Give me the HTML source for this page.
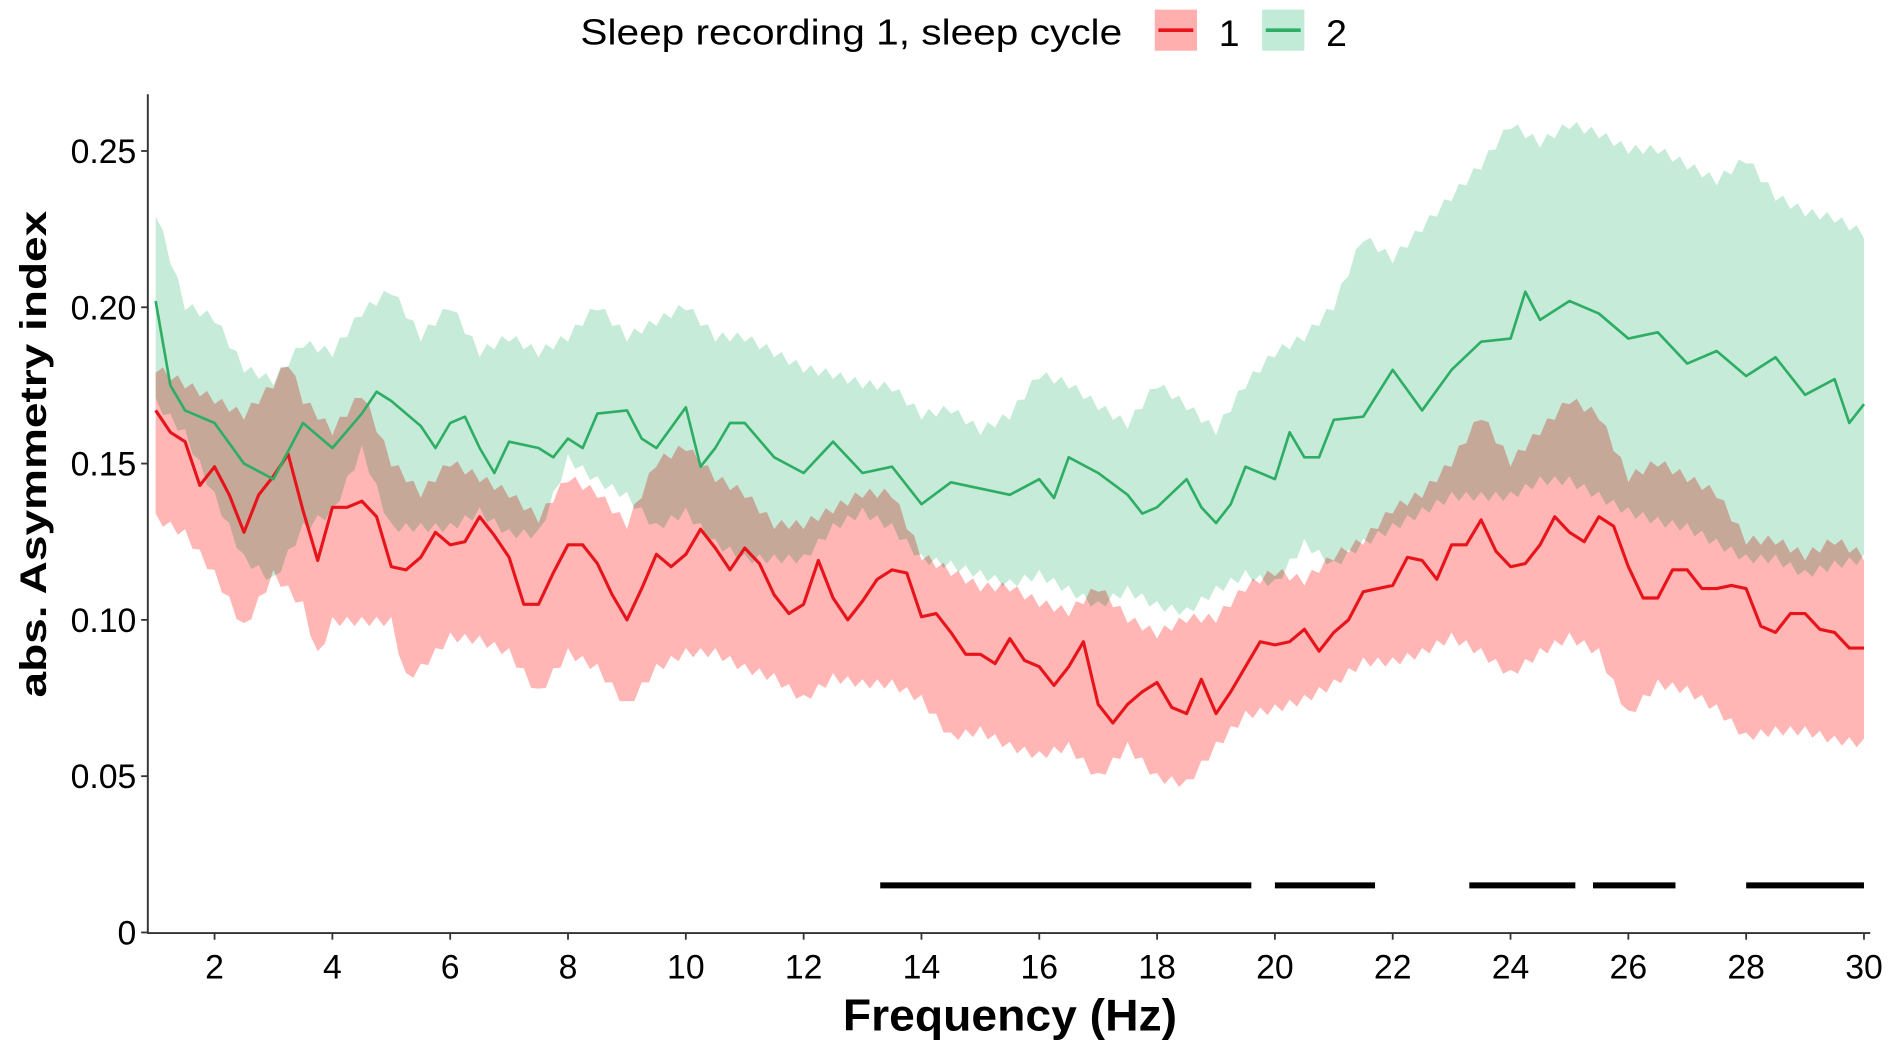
<!DOCTYPE html>
<html><head><meta charset="utf-8">
<style>
html,body{margin:0;padding:0;background:#fff;}
svg{display:block;}
text{font-family:"Liberation Sans",Arial,sans-serif;}
</style></head>
<body>
<svg id="s" width="1892" height="1046" viewBox="0 0 1568 866" preserveAspectRatio="none" xmlns="http://www.w3.org/2000/svg">
<g id="bands"></g>
<g id="lines"></g>
<g id="axes"></g>
<!-- legend -->
<text x="481" y="37" font-size="30" fill="#000" textLength="449" lengthAdjust="spacingAndGlyphs">Sleep recording 1, sleep cycle</text>
<rect x="957" y="8" width="35" height="34" fill="#FFB0AE"/>
<line x1="960" y1="25" x2="989" y2="25" stroke="#E8141B" stroke-width="3"/>
<text x="1010" y="38" font-size="31">1</text>
<rect x="1046" y="8" width="35" height="34" fill="#C2EBD7"/>
<line x1="1049" y1="25" x2="1078" y2="25" stroke="#2EAE64" stroke-width="3"/>
<text x="1099" y="38" font-size="31">2</text>
<text transform="translate(38,376) rotate(-90)" text-anchor="middle" font-size="31" font-weight="bold" textLength="403" lengthAdjust="spacingAndGlyphs">abs. Asymmetry index</text>
<text x="837" y="853" text-anchor="middle" font-size="37" font-weight="bold" textLength="277" lengthAdjust="spacingAndGlyphs">Frequency (Hz)</text>
</svg>
<script>
const X=f=>129+(f-1)*48.82, Y=v=>772-v*2588;
function parse(s){return s.trim().split(/\s*,\s*/).map(p=>p.split(':').map(Number));}
function interp(pts,f){for(let i=0;i<pts.length-1;i++){if(f>=pts[i][0]&&f<=pts[i+1][0]){const t=(f-pts[i][0])/(pts[i+1][0]-pts[i][0]);return pts[i][1]+t*(pts[i+1][1]-pts[i][1]);}}return pts[pts.length-1][1];}
const rm=parse("1:0.167,1.25:0.16,1.5:0.157,1.75:0.143,2:0.149,2.25:0.14,2.5:0.128,2.75:0.14,3:0.146,3.25:0.153,3.5:0.135,3.75:0.119,4:0.136,4.25:0.136,4.5:0.138,4.75:0.133,5:0.117,5.25:0.116,5.5:0.12,5.75:0.128,6:0.124,6.25:0.125,6.5:0.133,6.75:0.127,7:0.12,7.25:0.105,7.5:0.105,7.75:0.115,8:0.124,8.25:0.124,8.5:0.118,8.75:0.108,9:0.1,9.25:0.11,9.5:0.121,9.75:0.117,10:0.121,10.25:0.129,10.5:0.123,10.75:0.116,11:0.123,11.25:0.118,11.5:0.108,11.75:0.102,12:0.105,12.25:0.119,12.5:0.107,12.75:0.1,13:0.106,13.25:0.113,13.5:0.116,13.75:0.115,14:0.101,14.25:0.102,14.5:0.096,14.75:0.089,15:0.089,15.25:0.086,15.5:0.094,15.75:0.087,16:0.085,16.25:0.079,16.5:0.085,16.75:0.093,17:0.073,17.25:0.067,17.5:0.073,17.75:0.077,18:0.08,18.25:0.072,18.5:0.07,18.75:0.081,19:0.07,19.25:0.077,19.5:0.085,19.75:0.093,20:0.092,20.25:0.093,20.5:0.097,20.75:0.09,21:0.096,21.25:0.1,21.5:0.109,21.75:0.11,22:0.111,22.25:0.12,22.5:0.119,22.75:0.113,23:0.124,23.25:0.124,23.5:0.132,23.75:0.122,24:0.117,24.25:0.118,24.5:0.124,24.75:0.133,25:0.128,25.25:0.125,25.5:0.133,25.75:0.13,26:0.117,26.25:0.107,26.5:0.107,26.75:0.116,27:0.116,27.25:0.11,27.5:0.11,27.75:0.111,28:0.11,28.25:0.098,28.5:0.096,28.75:0.102,29:0.102,29.25:0.097,29.5:0.096,29.75:0.091,30:0.091");
const ru=parse("1:0.18,1.5:0.175,2:0.17,2.5:0.165,3:0.175,3.25:0.182,3.5:0.17,4:0.16,4.5:0.172,5:0.15,5.5:0.14,6:0.15,6.5:0.145,7:0.14,7.5:0.132,8:0.145,8.5:0.14,9:0.13,9.5:0.15,10:0.155,10.5:0.145,11:0.14,11.5:0.13,12:0.13,12.5:0.135,13:0.14,13.5:0.14,14:0.12,14.5:0.115,15:0.11,15.5:0.11,16:0.105,16.5:0.102,17:0.11,17.5:0.1,18:0.095,18.5:0.1,19:0.1,19.5:0.11,20:0.115,20.5:0.112,21:0.12,21.5:0.125,22:0.135,22.5:0.14,23:0.15,23.5:0.165,24:0.15,24.5:0.16,25:0.17,25.5:0.165,26:0.145,26.5:0.15,27:0.145,27.5:0.14,28:0.125,28.5:0.125,29:0.12,29.5:0.125,30:0.12");
const rl=parse("1:0.133,1.5:0.128,2:0.115,2.5:0.098,3:0.115,3.5:0.105,3.75:0.089,4:0.1,4.5:0.1,5:0.1,5.25:0.082,5.5:0.085,6:0.095,6.5:0.094,7:0.09,7.5:0.077,8:0.09,8.5:0.085,9:0.073,9.5:0.085,10:0.09,10.5:0.09,11:0.085,11.5:0.082,12:0.075,12.5:0.082,13:0.08,13.5:0.08,14:0.075,14.5:0.063,15:0.065,15.5:0.06,16:0.057,16.5:0.06,17:0.05,17.5:0.06,18:0.05,18.5:0.048,19:0.06,19.5:0.07,20:0.072,20.5:0.075,21:0.08,21.5:0.087,22:0.087,22.5:0.09,23:0.095,23.5:0.09,24:0.083,24.5:0.09,25:0.095,25.5:0.09,26:0.07,26.5:0.08,27:0.078,27.5:0.072,28:0.063,28.5:0.065,29:0.065,29.5:0.062,30:0.061");
const gm=parse("1:0.202,1.25:0.175,1.5:0.167,2:0.163,2.5:0.15,3:0.145,3.5:0.163,4:0.155,4.5:0.166,4.75:0.173,5:0.17,5.5:0.162,5.75:0.155,6:0.163,6.25:0.165,6.5:0.155,6.75:0.147,7:0.157,7.5:0.155,7.75:0.152,8:0.158,8.25:0.155,8.5:0.166,9:0.167,9.25:0.158,9.5:0.155,10:0.168,10.25:0.149,10.5:0.155,10.75:0.163,11:0.163,11.5:0.152,12:0.147,12.5:0.157,13:0.147,13.5:0.149,14:0.137,14.5:0.144,15:0.142,15.5:0.14,16:0.145,16.25:0.139,16.5:0.152,17:0.147,17.5:0.14,17.75:0.134,18:0.136,18.5:0.145,18.75:0.136,19:0.131,19.25:0.137,19.5:0.149,20:0.145,20.25:0.16,20.5:0.152,20.75:0.152,21:0.164,21.5:0.165,22:0.18,22.5:0.167,23:0.18,23.5:0.189,24:0.19,24.25:0.205,24.5:0.196,25:0.202,25.5:0.198,26:0.19,26.5:0.192,27:0.182,27.5:0.186,28:0.178,28.5:0.184,29:0.172,29.5:0.177,29.75:0.163,30:0.169");
const gu=parse("1:0.23,1.5:0.2,2:0.196,2.5:0.18,3:0.176,3.5:0.188,4:0.185,4.5:0.198,5:0.205,5.5:0.19,6:0.2,6.5:0.185,7:0.19,7.5:0.185,8:0.19,8.5:0.2,9:0.19,9.5:0.195,10:0.2,10.5:0.19,11:0.19,11.5:0.185,12:0.18,12.5:0.178,13:0.175,13.5:0.174,14:0.165,14.5:0.167,15:0.16,15.5:0.165,16:0.178,16.5:0.175,17:0.168,17.5:0.162,18:0.175,18.5:0.168,19:0.16,19.5:0.175,20:0.185,20.5:0.19,21:0.2,21.5:0.222,22:0.215,22.5:0.225,23:0.235,23.5:0.245,24:0.258,24.5:0.252,25:0.258,25.5:0.255,26:0.25,26.5:0.25,27:0.245,27.5:0.24,28:0.247,28.5:0.235,29:0.23,29.5:0.228,30:0.223");
const gl=parse("1:0.17,1.5:0.16,2:0.14,2.5:0.12,3:0.113,3.5:0.13,4:0.135,4.5:0.155,5:0.13,5.5:0.13,6:0.13,6.5:0.135,7:0.128,7.5:0.128,8:0.152,8.5:0.145,9:0.14,9.5:0.13,10:0.135,10.5:0.125,11:0.12,11.5:0.12,12:0.12,12.5:0.13,13:0.135,13.5:0.13,14:0.12,14.5:0.118,15:0.115,15.5:0.112,16:0.115,16.5:0.11,17:0.105,17.5:0.11,18:0.105,18.5:0.103,19:0.11,19.5:0.115,20:0.112,20.5:0.125,21:0.118,21.5:0.125,22:0.13,22.5:0.135,23:0.14,23.5:0.14,24:0.14,24.5:0.145,25:0.145,25.5:0.14,26:0.135,26.5:0.132,27:0.13,27.5:0.125,28:0.12,28.5:0.12,29:0.115,29.5:0.118,30:0.12");
function band(u,l,fill,extra){
  let d='M';const fs=[];for(let f=1;f<=30.001;f+=0.125)fs.push(f);
  fs.forEach((f,i)=>{const j=(i%2?0.002:-0.001);d+=(i?'L':'')+X(f).toFixed(1)+','+Y(interp(u,f)+j).toFixed(1);});
  fs.slice().reverse().forEach((f,i)=>{const j=(i%2?-0.002:0.001);d+='L'+X(f).toFixed(1)+','+Y(interp(l,f)+j).toFixed(1);});
  return `<path d="${d}Z" fill="${fill}" ${extra||''}/>`;
}
function line(m,c,w){return `<polyline points="${m.map(p=>X(p[0]).toFixed(1)+','+Y(p[1]).toFixed(1)).join(' ')}" fill="none" stroke="${c}" stroke-width="${w}" stroke-linejoin="round"/>`;}
document.getElementById('bands').innerHTML=band(gu,gl,'#C6EBD9')+band(ru,rl,'#FFB6B4','style="mix-blend-mode:multiply"');
document.getElementById('lines').innerHTML=line(rm,'#E8141B',2.6)+line(gm,'#2EAE64',2.2);
let a='<line x1="122.5" y1="78" x2="122.5" y2="773" stroke="#333" stroke-width="1.6"/><line x1="122" y1="772.5" x2="1550" y2="772.5" stroke="#333" stroke-width="1.6"/>';
[0,0.05,0.1,0.15,0.2,0.25].forEach(v=>{const y=Y(v);a+=`<line x1="117" y1="${y}" x2="122" y2="${y}" stroke="#333" stroke-width="1.5"/><text x="113" y="${y+10}" text-anchor="end" font-size="28">${v==0?'0':v.toFixed(2)}</text>`;});
for(let f=2;f<=30;f+=2){const x=X(f);a+=`<line x1="${x}" y1="772" x2="${x}" y2="778" stroke="#333" stroke-width="1.5"/><text x="${x}" y="810" text-anchor="middle" font-size="28">${f}</text>`;}
[[13.3,19.6],[20,21.7],[23.3,25.1],[25.4,26.8],[28,30]].forEach(s=>{a+=`<line x1="${X(s[0])}" y1="733" x2="${X(s[1])}" y2="733" stroke="#000" stroke-width="5"/>`;});
document.getElementById('axes').innerHTML=a;
</script>
</body></html>
